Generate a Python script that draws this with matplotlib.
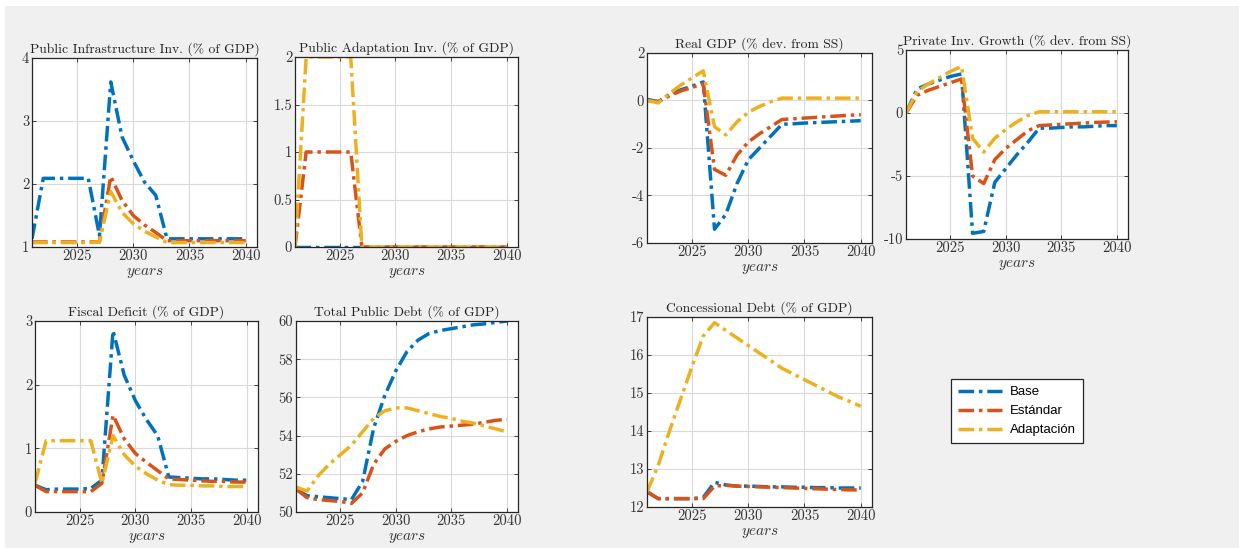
#Simulation results: Base vs Estandar vs Adaptacion scenarios
import numpy as np
import matplotlib.pyplot as plt
from matplotlib.patches import Rectangle

plt.rcParams['mathtext.fontset'] = 'cm'
plt.rcParams['axes.unicode_minus'] = False

years = list(range(2021, 2041))

#Public infrastructure investment (% of GDP)
infra_base = [1.13, 2.09, 2.09, 2.09, 2.09, 2.09, 1.18, 3.62, 2.75, 2.37, 2.03, 1.82, 1.13, 1.13, 1.13, 1.13, 1.13, 1.13, 1.13, 1.13]
infra_std = [1.08, 1.08, 1.08, 1.08, 1.08, 1.08, 1.08, 2.12, 1.74, 1.50, 1.35, 1.23, 1.10, 1.10, 1.10, 1.10, 1.10, 1.10, 1.10, 1.10]
infra_adap = [1.07, 1.07, 1.07, 1.07, 1.07, 1.07, 1.08, 1.88, 1.55, 1.37, 1.25, 1.16, 1.07, 1.07, 1.07, 1.07, 1.07, 1.07, 1.07, 1.07]

#Public adaptation investment (% of GDP)
adap_base = [0.0] * 20
adap_std = [0, 1, 1, 1, 1, 1, 0, 0, 0, 0, 0, 0, 0, 0, 0, 0, 0, 0, 0, 0]
adap_adap = [0, 2, 2, 2, 2, 2, 0, 0, 0, 0, 0, 0, 0, 0, 0, 0, 0, 0, 0, 0]

#Real GDP (% dev. from SS)
gdp_base = [0.05, -0.05, 0.25, 0.45, 0.6, 0.78, -5.42, -4.8, -3.5, -2.5, -2.0, -1.5, -1.0, -0.98, -0.95, -0.93, -0.91, -0.89, -0.87, -0.85]
gdp_std = [0.0, -0.05, 0.2, 0.4, 0.55, 0.7, -2.9, -3.15, -2.3, -1.75, -1.4, -1.1, -0.8, -0.77, -0.74, -0.71, -0.68, -0.65, -0.62, -0.6]
gdp_adap = [0.0, -0.1, 0.3, 0.65, 0.95, 1.25, -1.1, -1.45, -0.9, -0.5, -0.25, -0.05, 0.1, 0.1, 0.1, 0.1, 0.1, 0.1, 0.1, 0.1]

#Private investment growth (% dev. from SS)
pinv_base = [0.0, 1.9, 2.3, 2.6, 2.9, 3.1, -9.55, -9.4, -5.5, -4.4, -3.3, -2.3, -1.2, -1.2, -1.15, -1.1, -1.1, -1.05, -1.0, -1.0]
pinv_std = [0.0, 1.4, 1.8, 2.1, 2.4, 2.7, -5.0, -5.6, -3.7, -2.8, -2.1, -1.4, -1.0, -0.95, -0.9, -0.85, -0.8, -0.75, -0.72, -0.7]
pinv_adap = [0.0, 1.7, 2.3, 2.8, 3.3, 3.7, -2.0, -3.1, -2.0, -1.3, -0.7, -0.2, 0.1, 0.1, 0.1, 0.1, 0.1, 0.1, 0.1, 0.1]

#Fiscal deficit (% of GDP)
def_base = [0.42, 0.35, 0.36, 0.36, 0.36, 0.37, 0.5, 2.85, 2.15, 1.75, 1.45, 1.2, 0.55, 0.54, 0.53, 0.52, 0.52, 0.51, 0.5, 0.5]
def_std = [0.42, 0.32, 0.32, 0.32, 0.32, 0.32, 0.45, 1.52, 1.15, 0.92, 0.78, 0.65, 0.52, 0.51, 0.5, 0.49, 0.48, 0.48, 0.47, 0.47]
def_adap = [0.45, 1.12, 1.12, 1.12, 1.12, 1.12, 0.45, 1.2, 0.9, 0.72, 0.6, 0.5, 0.43, 0.42, 0.42, 0.41, 0.41, 0.4, 0.4, 0.4]

#Total public debt (% of GDP)
debt_base = [51.2, 50.85, 50.8, 50.75, 50.7, 50.65, 51.6, 54.4, 56.1, 57.4, 58.4, 59.0, 59.35, 59.5, 59.6, 59.7, 59.8, 59.85, 59.93, 60.0]
debt_std = [51.2, 50.75, 50.65, 50.6, 50.55, 50.45, 51.0, 52.5, 53.3, 53.7, 54.0, 54.2, 54.35, 54.45, 54.5, 54.55, 54.6, 54.7, 54.8, 54.85]
debt_adap = [51.3, 51.1, 51.9, 52.5, 53.0, 53.5, 54.2, 54.9, 55.3, 55.45, 55.45, 55.3, 55.15, 55.0, 54.9, 54.75, 54.65, 54.5, 54.35, 54.2]

#Concessional debt (% of GDP)
conc_base = [12.4, 12.22, 12.22, 12.22, 12.22, 12.25, 12.65, 12.58, 12.55, 12.55, 12.54, 12.53, 12.53, 12.52, 12.52, 12.51, 12.51, 12.5, 12.5, 12.5]
conc_std = [12.4, 12.22, 12.22, 12.22, 12.22, 12.22, 12.55, 12.57, 12.55, 12.54, 12.53, 12.52, 12.51, 12.5, 12.49, 12.48, 12.47, 12.46, 12.45, 12.45]
conc_adap = [12.4, 13.1, 14.0, 14.85, 15.7, 16.5, 16.85, 16.65, 16.45, 16.25, 16.05, 15.85, 15.65, 15.5, 15.35, 15.2, 15.05, 14.9, 14.78, 14.65]

scenarios = ["Base", "Estándar", "Adaptación"]
colors = ["#0072BD", "#D95319", "#EDB120"]

W, H = 1239, 548

def px_axes(fig, x0, y0, x1, y1):
    #Convert pixel box (top-left origin) into figure fraction
    return fig.add_axes([x0 / W, 1 - y1 / H, (x1 - x0) / W, (y1 - y0) / H])

def draw_panel(ax, title, series, ylim, yticks, yticklabels=None):
    lines = []
    for vals, c in zip(series, colors):
        ln, = ax.plot(years, vals, color=c, linestyle="-.", linewidth=2.5, dashes=(4.5, 1.4, 1.0, 1.4))
        lines.append(ln)
    ax.set_xlim(2021, 2041)
    ax.set_ylim(*ylim)
    ax.set_xticks([2025, 2030, 2035, 2040])
    ax.set_yticks(yticks)
    if yticklabels is not None:
        ax.set_yticklabels(yticklabels)
    ax.set_facecolor("white")
    ax.grid(True, color="#d9d9d9", linewidth=0.8)
    ax.set_axisbelow(True)
    ax.tick_params(direction="in", top=True, right=True, length=3, width=0.6, colors="#262626", labelsize=10.5, pad=2)
    for lab in ax.get_xticklabels() + ax.get_yticklabels():
        lab.set_fontfamily("cmr10")
        lab.set_color("#333333")
    for s in ax.spines.values():
        s.set_color("#262626")
        s.set_linewidth(0.9)
    ax.set_title(title, fontfamily="cmr10", fontsize=9.8, color="#222222", pad=4)
    ax.set_xlabel(r"$years$", fontsize=11, color="#333333", labelpad=1)
    return lines

def main():
    fig = plt.figure(figsize=(W / 100, H / 100), dpi=100)
    fig.patch.set_facecolor("white")
    fig.add_artist(Rectangle((5 / W, 0), 1, 1 - 6 / H, transform=fig.transFigure, facecolor="#f0f0f0", edgecolor="none", zorder=-10))

    ax1 = px_axes(fig, 32, 58, 257, 247)
    lines = draw_panel(ax1, "Public Infrastructure Inv. (% of GDP)", [infra_base, infra_std, infra_adap], (1, 4), [1, 2, 3, 4])

    ax2 = px_axes(fig, 295, 57, 518, 247)
    draw_panel(ax2, "Public Adaptation Inv. (% of GDP)", [adap_base, adap_std, adap_adap], (0, 2), [0, 0.5, 1, 1.5, 2], ["0", "0.5", "1", "1.5", "2"])

    ax3 = px_axes(fig, 647, 53, 872, 243)
    draw_panel(ax3, "Real GDP (% dev. from SS)", [gdp_base, gdp_std, gdp_adap], (-6, 2), [-6, -4, -2, 0, 2])

    ax4 = px_axes(fig, 906, 50, 1128, 239)
    draw_panel(ax4, "Private Inv. Growth (% dev. from SS)", [pinv_base, pinv_std, pinv_adap], (-10, 5), [-10, -5, 0, 5])

    ax5 = px_axes(fig, 35, 321, 258, 512)
    draw_panel(ax5, "Fiscal Deficit (% of GDP)", [def_base, def_std, def_adap], (0, 3), [0, 1, 2, 3])

    ax6 = px_axes(fig, 296, 321, 518, 512)
    draw_panel(ax6, "Total Public Debt (% of GDP)", [debt_base, debt_std, debt_adap], (50, 60), [50, 52, 54, 56, 58, 60])

    ax7 = px_axes(fig, 647, 317, 872, 507)
    draw_panel(ax7, "Concessional Debt (% of GDP)", [conc_base, conc_std, conc_adap], (12, 17), [12, 13, 14, 15, 16, 17])

    #Legend box in the empty slot
    leg = fig.legend(lines, scenarios, loc="upper left", bbox_to_anchor=(951 / W, 1 - 379 / H),
                     prop={"family": "Liberation Sans", "size": 9.5}, frameon=True, fancybox=False,
                     edgecolor="#262626", facecolor="white", framealpha=1, handlelength=3.3,
                     handletextpad=0.6, borderpad=0.55, labelspacing=0.5, borderaxespad=0)
    leg.get_frame().set_linewidth(0.9)

    fig.savefig("out.png", dpi=100, facecolor=fig.get_facecolor())

if __name__ == "__main__":
    main()
